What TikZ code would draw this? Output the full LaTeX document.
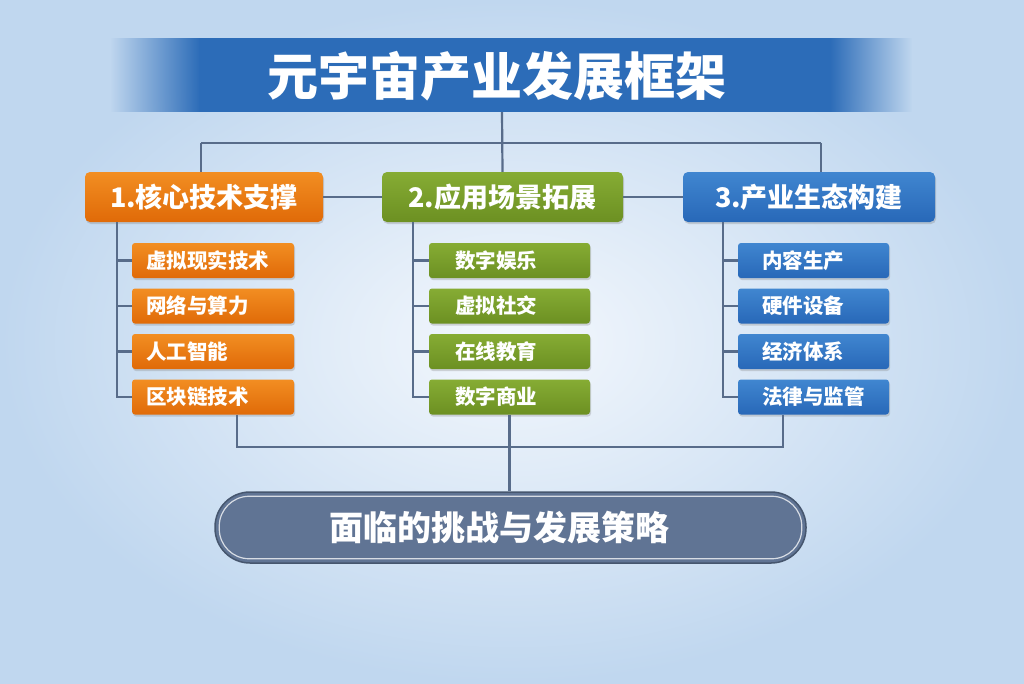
\documentclass[tikz,border=0pt]{standalone}
\usepackage{fontspec}
\setmainfont{Noto Sans CJK SC}
\usetikzlibrary{shadows,fadings,calc}
\definecolor{bgin}{RGB}{244,248,253}
\definecolor{bgout}{RGB}{192,215,239}
\definecolor{titleb}{RGB}{44,108,184}
\definecolor{otop}{RGB}{242,142,34}
\definecolor{obot}{RGB}{224,106,8}
\definecolor{gtop}{RGB}{134,172,52}
\definecolor{gbot}{RGB}{108,144,34}
\definecolor{btop}{RGB}{64,134,208}
\definecolor{bbot}{RGB}{40,104,184}
\definecolor{linec}{RGB}{88,108,138}
\definecolor{pillc}{RGB}{96,116,148}
\tikzfading[name=fadeleft, left color=transparent!100, right color=transparent!0]
\tikzfading[name=faderight, left color=transparent!0, right color=transparent!100]
\tikzset{
  conn/.style={draw=linec, line width=2.2pt},
  mainbox/.style={rounded corners=5pt, minimum height=50pt, text=white,
    font=\fontsize{27}{32}\selectfont\bfseries, inner sep=0pt,
    drop shadow={shadow xshift=1pt, shadow yshift=-2pt, opacity=0.3}},
  subbox/.style={rounded corners=3pt, minimum height=35pt, inner sep=0pt,
    drop shadow={shadow xshift=1pt, shadow yshift=-2pt, opacity=0.3}},
  subtext/.style={text=white, font=\fontsize{20.5}{24}\selectfont\bfseries, anchor=west, inner sep=0pt},
  ob/.style={top color=otop, bottom color=obot},
  gb/.style={top color=gtop, bottom color=gbot},
  bb/.style={top color=btop, bottom color=bbot},
}
\begin{document}
\begin{tikzpicture}[x=1pt,y=-1pt]
\useasboundingbox (0,0) rectangle (1024,683);
\shade[inner color=bgin, outer color=bgout] (0,0) rectangle (1024,683);
% title banner
\fill[titleb] (199,38) rectangle (831,112);
\fill[titleb, path fading=fadeleft] (110,38) rectangle (200,112);
\fill[titleb, path fading=faderight] (830,38) rectangle (912,112);
\node[minimum width=780pt, minimum height=74pt, inner sep=0pt] (banner) at (502,75) {};
\node[text=white, font=\fontsize{51}{58}\selectfont\bfseries] (title) at (497,76) {元宇宙产业发展框架};
% main boxes
\node[mainbox, ob, minimum width=238pt] (b1) at (204,197) {1.核心技术支撑};
\node[mainbox, gb, minimum width=241pt] (b2) at (502.5,197) {2.应用场景拓展};
\node[mainbox, bb, minimum width=252pt] (b3) at (809,197) {3.产业生态构建};
% sub boxes
\foreach \i/\y/\t in {1/260.5/虚拟现实技术, 2/306/网络与算力, 3/351.5/人工智能, 4/397/区块链技术}{
  \node[subbox, ob, minimum width=162pt] (s1\i) at (213,\y) {};
  \node[subtext] at ($(s1\i.west)+(14,0)$) {\t};
}
\foreach \i/\y/\t in {1/260.5/数字娱乐, 2/306/虚拟社交, 3/351.5/在线教育, 4/397/数字商业}{
  \node[subbox, gb, minimum width=161pt] (s2\i) at (509.5,\y) {};
  \node[subtext] at ($(s2\i.west)+(26,0)$) {\t};
}
\foreach \i/\y/\t in {1/260.5/内容生产, 2/306/硬件设备, 3/351.5/经济体系, 4/397/法律与监管}{
  \node[subbox, bb, minimum width=151pt] (s3\i) at (813.5,\y) {};
  \node[subtext] at ($(s3\i.west)+(24,0)$) {\t};
}
% pill
\node[rounded corners=35pt, minimum width=591pt, minimum height=71pt, fill=pillc,
  draw=linec!80!black, line width=1.5pt, inner sep=0pt] (pill) at (510.5,527.5) {};
\draw[white!75!pillc, line width=1.2pt, rounded corners=30pt]
  ($(pill.north west)+(5,5)$) rectangle ($(pill.south east)+(-5,-5)$);
\node[text=white, font=\fontsize{34}{38}\selectfont\bfseries] at (499,528) {面临的挑战与发展策略};
% connectors top
\coordinate (j1) at (201,143);
\coordinate (j3) at (821,143);
\draw[conn] (banner.south) -- (b2.north);
\draw[conn] (j1) -- (j3);
\draw[conn] (j1) -- (j1 |- b1.north);
\draw[conn] (j3) -- (j3 |- b3.north);
\draw[conn] (b1.east) -- (b2.west);
\draw[conn] (b2.east) -- (b3.west);
% spines
\foreach \k/\x in {1/117, 2/413, 3/723}{
  \draw[conn] (\x,222) |- (s\k4.west);
  \foreach \i in {1,2,3}{ \draw[conn] (s\k\i.west -| \x,0) -- (s\k\i.west); }
}
% bottom
\coordinate (k1) at (237,447);
\coordinate (k3) at (783,447);
\draw[conn] (k1 |- s14.south) -- (k1) -- (k3) -- (k3 |- s34.south);
\draw[conn] (s24.south) -- (s24.south |- pill.north);
\end{tikzpicture}
\end{document}
